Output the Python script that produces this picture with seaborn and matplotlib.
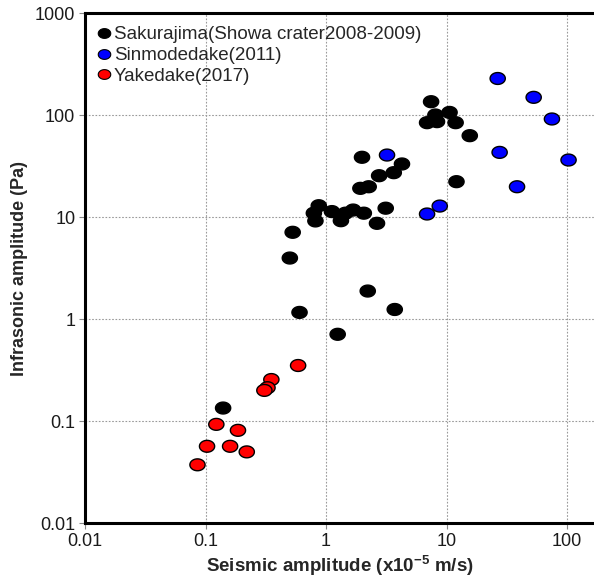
import numpy as np
import pandas as pd
import matplotlib
matplotlib.use("Agg")
import matplotlib.pyplot as plt
from matplotlib.path import Path
from matplotlib.lines import Line2D
import seaborn as sns

# ---- data ----
sak_x = [7.45, 8.09, 10.6, 6.90, 8.34, 11.9, 15.6, 1.99, 4.27, 3.65, 2.76, 2.26, 1.93,
         12.1, 3.13, 0.871, 0.793, 1.12, 1.68, 2.06, 1.45, 0.817, 1.33, 2.65, 0.529,
         0.501, 2.22, 3.72, 0.603, 1.25, 0.140]
sak_y = [135, 100, 106, 84.1, 86.1, 84.1, 62.7, 38.5, 33.1, 27.2, 25.4, 19.8, 19.1,
         22.2, 12.2, 12.9, 10.9, 11.3, 11.7, 10.9, 10.9, 9.15, 9.2, 8.67, 7.08,
         3.96, 1.88, 1.24, 1.16, 0.708, 0.134]
sin_x = [26.6, 52.9, 75.0, 27.6, 103, 38.5, 3.21, 8.79, 6.90]
sin_y = [228, 149, 91.4, 43.0, 36.2, 19.8, 40.5, 12.8, 10.7]
yak_x = [0.587, 0.352, 0.327, 0.308, 0.123, 0.186, 0.103, 0.160, 0.220, 0.0858]
yak_y = [0.350, 0.255, 0.212, 0.1995, 0.0927, 0.081, 0.0565, 0.0565, 0.0498, 0.0372]

labels = ["Sakurajima(Showa crater2008-2009)", "Sinmodedake(2011)", "Yakedake(2017)"]
colors = ["#000000", "#0000FF", "#FF0000"]
x_ticks = [0.01, 0.1, 1, 10, 100]
x_tick_labels = ["0.01", "0.1", "1", "10", "100"]
y_ticks = [0.01, 0.1, 1, 10, 100, 1000]
y_tick_labels = ["0.01", "0.1", "1", "10", "100", "1000"]

df = pd.DataFrame({
    "x": sak_x + sin_x + yak_x,
    "y": sak_y + sin_y + yak_y,
    "group": [labels[0]] * len(sak_x) + [labels[1]] * len(sin_x) + [labels[2]] * len(yak_x),
})

sns.set_theme(style="white")
plt.rcParams["font.family"] = ["Liberation Sans", "DejaVu Sans"]
plt.rcParams["mathtext.fontset"] = "custom"
plt.rcParams["mathtext.rm"] = "Liberation Sans:bold"
plt.rcParams["mathtext.default"] = "rm"

# elliptical marker
t = np.linspace(0, 2 * np.pi, 60)
ell = Path(np.column_stack([np.cos(t), 0.78 * np.sin(t)]), closed=True)

fig = plt.figure(figsize=(5.94, 5.79), dpi=100)
ax = fig.add_axes([85 / 594, 1 - 523 / 579, 1 - 85 / 594, (523 - 13) / 579])

sns.scatterplot(data=df, x="x", y="y", hue="group", hue_order=labels,
                palette=dict(zip(labels, colors)), marker=ell, s=120,
                edgecolor="black", linewidth=1.0, legend=False, ax=ax, zorder=3)

ax.set_xscale("log")
ax.set_yscale("log")
ax.set_xlim(0.01, 10 ** (2 + 27 / 120.5))
ax.set_ylim(0.01, 1000)
ax.set_xticks(x_ticks)
ax.set_xticklabels(x_tick_labels)
ax.set_yticks(y_ticks)
ax.set_yticklabels(y_tick_labels)
ax.minorticks_off()
ax.tick_params(axis="both", which="major", direction="out", length=4, width=0.8,
               color="#888888", labelsize=13, pad=3, labelcolor="#1a1a1a")
ax.tick_params(axis="both", bottom=True, left=True)
ax.grid(True, which="major", color="#9a9a9a", linestyle=(0, (1.5, 1.5)), linewidth=0.8)
ax.set_axisbelow(True)

for side in ["left", "top", "bottom"]:
    ax.spines[side].set_linewidth(2.2)
    ax.spines[side].set_color("#000000")
ax.spines["right"].set_visible(False)

ax.set_xlabel(r"Seismic amplitude (x10$^{-5}$ m/s)", fontsize=13.5, fontweight="bold",
              labelpad=3)
ax.set_ylabel("Infrasonic amplitude (Pa)", fontsize=13, fontweight="bold", labelpad=5)

handles = [Line2D([0], [0], linestyle="none", marker=ell, markersize=9,
                  markerfacecolor=c, markeredgecolor="black", markeredgewidth=0.8)
           for c in colors]
leg = ax.legend(handles, labels, loc="upper left", bbox_to_anchor=(0.0, 1.0),
                frameon=False, fontsize=13.5, handlelength=0.6, handletextpad=0.25,
                labelspacing=0.2, borderaxespad=0.4, borderpad=0.3)

fig.savefig("out.png", dpi=100)
